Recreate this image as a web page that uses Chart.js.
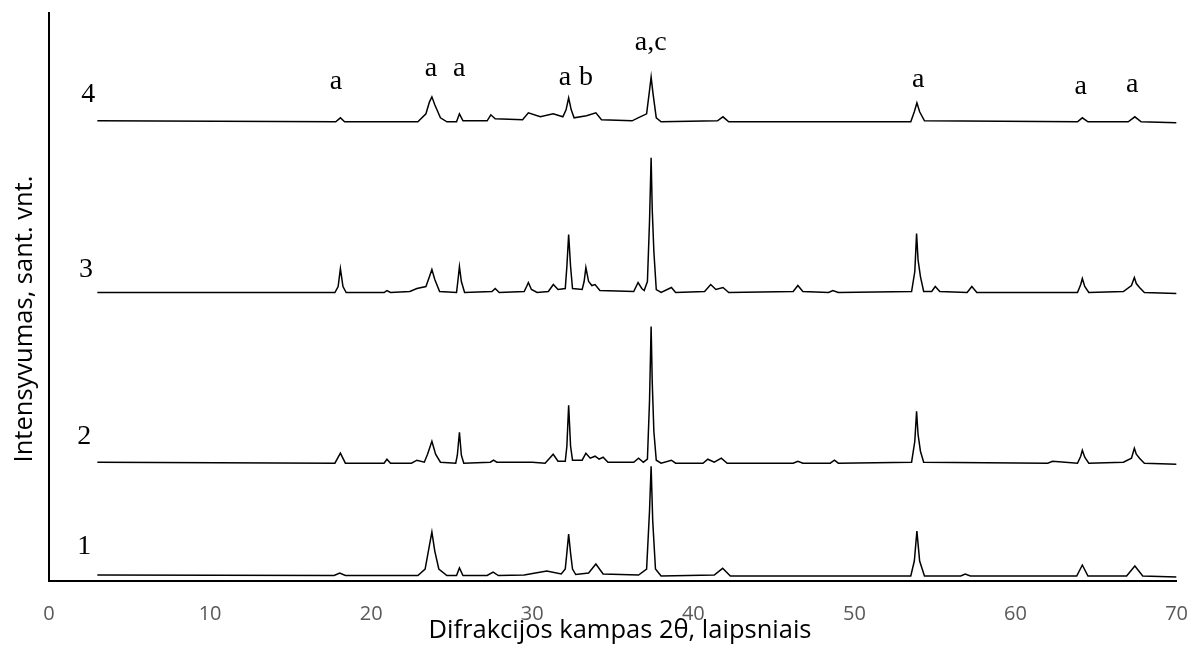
<!DOCTYPE html>
<html>
<head>
<meta charset="utf-8">
<script src="https://cdn.jsdelivr.net/npm/chart.js@4.4.1/dist/chart.umd.min.js"></script>
<style>
  html, body { margin: 0; padding: 0; background: #fff; }
  canvas { display: block; }
</style>
</head>
<body>
<canvas id="grafico" width="1193" height="651"></canvas>
<script>
// difraktogramos: 2θ kampai ir intensyvumai (sant. vnt., su poslinkiu)
const kampai1 = [3.0, 17.7, 18.05, 18.4, 22.9, 23.35, 23.62, 23.77, 23.95, 24.2, 24.7, 25.3, 25.48, 25.7, 27.2, 27.57, 27.9, 29.5, 30.9, 31.8, 32.05, 32.16, 32.26, 32.38, 32.5, 32.7, 33.5, 33.95, 34.4, 36.6, 37.1, 37.28, 37.38, 37.48, 37.65, 38.0, 41.3, 41.82, 42.3, 53.5, 53.72, 53.88, 54.05, 54.35, 56.6, 56.88, 57.2, 63.8, 64.15, 64.5, 66.9, 67.41, 67.9, 70.0];
const intens1 = [6, 5.5, 8, 5.5, 5.5, 12, 36, 49, 30, 12, 5.5, 5.5, 13, 5.5, 5.5, 9, 5.5, 6, 10, 7, 12, 30, 47, 28, 12, 6.5, 8, 17, 7, 6, 12, 70, 115, 60, 12, 5, 6, 12.7, 5, 5, 20, 50, 20, 5, 5, 7, 5, 5, 16, 5, 5, 15, 5, 4];

const kampai2 = [3.0, 17.75, 18.09, 18.4, 20.8, 20.98, 21.2, 22.5, 22.84, 23.3, 23.5, 23.77, 24.0, 24.3, 25.25, 25.35, 25.48, 25.6, 25.75, 27.4, 27.6, 27.8, 30.0, 30.8, 31.3, 31.6, 32.05, 32.15, 32.26, 32.38, 32.5, 33.1, 33.33, 33.6, 33.9, 34.15, 34.4, 34.7, 36.3, 36.6, 36.9, 37.15, 37.28, 37.38, 37.45, 37.55, 37.7, 38.0, 38.64, 38.9, 40.6, 40.9, 41.3, 41.74, 42.1, 46.2, 46.49, 46.8, 48.5, 48.76, 49.0, 53.55, 53.75, 53.86, 53.95, 54.1, 54.3, 62.0, 62.3, 63.85, 64.05, 64.15, 64.3, 64.55, 66.7, 67.2, 67.38, 67.5, 67.7, 68.0, 70.0];
const intens2 = [119, 118, 128, 118, 118, 122, 118, 118, 121, 119, 127, 140, 127, 119, 118, 126, 149, 126, 118, 119, 121, 119, 119, 118, 127, 120, 120, 135, 176, 135, 121, 121, 128, 123, 125, 122, 124, 119, 119, 123, 119, 122, 180, 255, 199, 150, 121, 118, 121, 118, 118, 122, 119, 123, 118, 118, 120, 118, 118, 121, 118, 119, 140, 170, 147, 130, 119, 118, 120, 118, 125, 131, 124, 118, 119, 123, 133, 127, 123, 118, 117];

const kampai3 = [3.0, 17.75, 17.95, 18.09, 18.25, 18.45, 20.8, 20.98, 21.2, 22.4, 22.84, 23.4, 23.6, 23.77, 23.95, 24.25, 25.3, 25.38, 25.48, 25.6, 25.8, 27.5, 27.7, 27.95, 29.5, 29.65, 29.76, 29.95, 30.3, 31.0, 31.31, 31.6, 32.05, 32.15, 32.26, 32.38, 32.5, 33.1, 33.22, 33.33, 33.5, 33.7, 33.9, 34.2, 36.3, 36.57, 36.8, 36.95, 37.15, 37.28, 37.38, 37.45, 37.55, 37.7, 38.0, 38.64, 38.9, 40.7, 41.08, 41.4, 41.84, 42.2, 46.2, 46.49, 46.8, 48.4, 48.66, 49.0, 53.55, 53.75, 53.86, 53.95, 54.1, 54.3, 54.8, 55.02, 55.3, 57.0, 57.29, 57.6, 63.85, 64.05, 64.15, 64.3, 64.55, 66.7, 67.2, 67.38, 67.5, 67.7, 68.0, 70.0];
const intens3 = [289, 289, 295, 313, 295, 289, 289, 291, 289, 290, 293, 295, 304, 312, 302, 290, 289, 300, 315, 300, 289, 290, 293, 289, 290, 295, 299, 292, 289, 290, 297, 292, 293, 315, 347, 315, 293, 292, 300, 314, 300, 296, 297, 291, 290, 299, 293, 291, 300, 360, 424, 372, 330, 292, 289, 294, 289, 290, 297, 292, 294, 289, 290, 296, 290, 289, 291, 289, 290, 310, 348, 322, 305, 290, 290, 295, 290, 289, 295, 289, 289, 297, 303, 295, 289, 290, 296, 304, 298, 294, 289, 288];

const kampai4 = [3.0, 17.8, 18.09, 18.35, 22.9, 23.4, 23.62, 23.77, 23.95, 24.3, 24.7, 25.3, 25.48, 25.7, 27.2, 27.43, 27.7, 29.4, 29.76, 30.5, 31.3, 31.9, 32.1, 32.26, 32.42, 32.6, 33.37, 33.95, 34.3, 36.2, 36.57, 37.1, 37.27, 37.38, 37.5, 37.7, 38.0, 41.5, 41.84, 42.2, 53.5, 53.72, 53.88, 54.05, 54.35, 63.85, 64.15, 64.5, 67.0, 67.41, 67.8, 70.0];
const intens4 = [461, 460, 464, 460, 460, 468, 480, 485, 477, 464, 460, 460, 468, 461, 461, 467, 463, 462, 469, 465, 468, 465, 472, 484, 472, 464, 466, 469, 462, 461, 464, 468, 490, 505, 488, 464, 460, 461, 465, 460, 460, 470, 479, 470, 461, 460, 464, 460, 460, 465, 460, 459];

// kreiviu numeriai
const kreiviuVardai = ['1', '2', '3', '4'];
const kreiviuX = [2.19, 2.19, 2.29, 2.43];
const kreiviuY = [27, 137, 305, 480];

// smailiu zymes
const zymes = ['a', 'a', 'a', 'a', 'b', 'a,c', 'a', 'a', 'a'];
const zymiuX = [17.82, 23.71, 25.46, 32.03, 33.33, 37.35, 53.96, 64.05, 67.24];
const zymiuY = [492.7, 506, 506, 497, 497, 532, 494.7, 487.7, 489.7];

const xMin = 0, xMax = 70, xZingsnis = 10;
const yMin = 0, yMax = 569;

const canvas = document.getElementById('grafico');

function taskai(kampai, intens) {
  return kampai.map((k, i) => ({ x: k, y: intens[i] }));
}

const serijos = [
  taskai(kampai1, intens1),
  taskai(kampai2, intens2),
  taskai(kampai3, intens3),
  taskai(kampai4, intens4)
];

const tekstai = {
  id: 'tekstai',
  afterDraw(chart) {
    const ctx = chart.ctx;
    const xs = chart.scales.x;
    const ys = chart.scales.y;
    ctx.save();
    ctx.fillStyle = '#000';
    ctx.textAlign = 'center';
    ctx.textBaseline = 'alphabetic';
    ctx.font = '28px "Liberation Serif", "DejaVu Serif", serif';
    kreiviuVardai.forEach((t, i) => {
      ctx.fillText(t, xs.getPixelForValue(kreiviuX[i]), ys.getPixelForValue(kreiviuY[i]));
    });
    zymes.forEach((t, i) => {
      ctx.fillText(t, xs.getPixelForValue(zymiuX[i]), ys.getPixelForValue(zymiuY[i]));
    });

    // asiu pavadinimai
    ctx.font = '25.5px "Open Sans", sans-serif';
    ctx.fillText('Difrakcijos kampas 2θ, laipsniais', 620, 638);
    ctx.translate(32, 319);
    ctx.rotate(-Math.PI / 2);
    ctx.fillText('Intensyvumas, sant. vnt.', 0, 0);
    ctx.restore();
  }
};

new Chart(canvas, {
  type: 'scatter',
  data: {
    datasets: serijos.map((d, i) => ({
      label: kreiviuVardai[i],
      data: d,
      showLine: true,
      borderColor: '#000',
      borderWidth: 1.5,
      pointRadius: 0,
      tension: 0,
      fill: false
    }))
  },
  options: {
    responsive: false,
    animation: false,
    layout: { padding: { left: 49, right: 15, top: 13, bottom: 4 } },
    plugins: {
      legend: { display: false },
      tooltip: { enabled: false }
    },
    scales: {
      x: {
        type: 'linear',
        min: xMin,
        max: xMax,
        grid: { display: false, drawTicks: false },
        border: { display: true, color: '#000', width: 2 },
        ticks: {
          stepSize: xZingsnis,
          padding: 5,
          color: '#595959',
          font: { family: 'Open Sans', size: 20, lineHeight: '56px' }
        }
      },
      y: {
        type: 'linear',
        min: yMin,
        max: yMax,
        grid: { display: false, drawTicks: false },
        border: { display: true, color: '#000', width: 2 },
        ticks: { display: false }
      }
    }
  },
  plugins: [tekstai]
});
</script>
</body>
</html>
